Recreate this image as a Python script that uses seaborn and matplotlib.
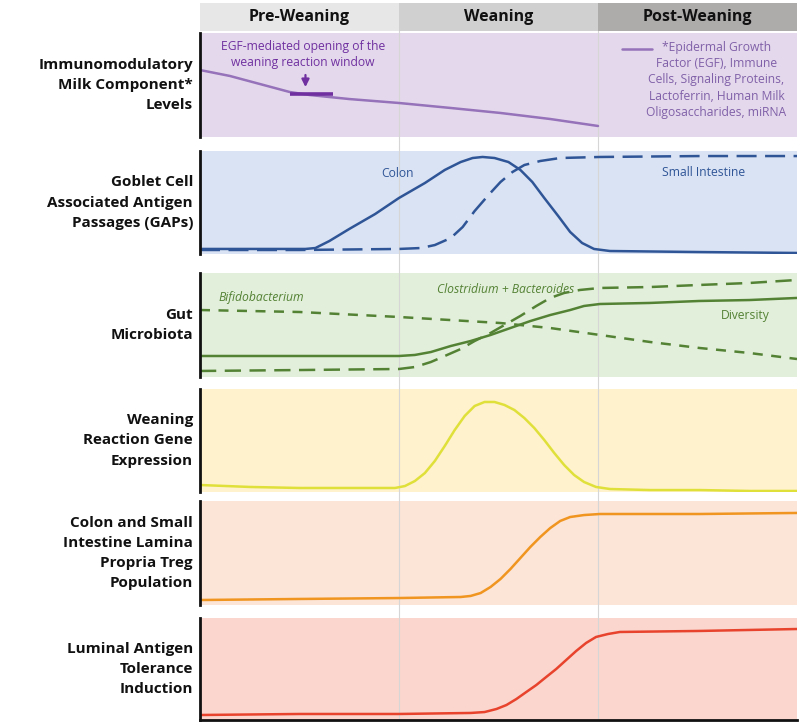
import matplotlib
matplotlib.use("Agg")
import matplotlib.pyplot as plt
from matplotlib.lines import Line2D
import seaborn as sns

sns.set_theme(style="white")
plt.rcParams['font.family'] = ['Open Sans', 'DejaVu Sans']

# ---------------- data ----------------
stages = ["Pre-Weaning", "Weaning", "Post-Weaning"]
stage_edges = [0, 1, 2, 3]

panel_labels = [
    "Immunomodulatory\nMilk Component*\nLevels",
    "Goblet Cell\nAssociated Antigen\nPassages (GAPs)",
    "Gut\nMicrobiota",
    "Weaning\nReaction Gene\nExpression",
    "Colon and Small\nIntestine Lamina\nPropria Treg\nPopulation",
    "Luminal Antigen\nTolerance\nInduction",
]

milk_x = [0, 0.15, 0.30, 0.45, 0.55, 0.75, 1.0, 1.26, 1.51, 1.76, 2.0]
milk_y = [64.4, 58.7, 51.0, 43.3, 40.4, 36.5, 32.7, 27.9, 23.1, 17.3, 10.6]
egf_window = [0.45, 0.67]
egf_level = 41.3

colon_x = [0, 0.30, 0.53, 0.58, 0.65, 0.75, 0.88, 1.0, 1.13, 1.23, 1.31, 1.37, 1.42,
           1.48, 1.55, 1.61, 1.67, 1.73, 1.80, 1.86, 1.92, 1.98, 2.06, 2.51, 3.0]
colon_y = [4.9, 4.9, 4.9, 5.8, 12.6, 24.3, 38.8, 54.4, 68.9, 81.6, 89.3, 93.2, 94.2,
           93.2, 89.3, 81.6, 69.9, 54.4, 36.9, 21.4, 10.7, 4.9, 2.9, 1.9, 1.0]

si_x = [0, 0.50, 1.0, 1.11, 1.18, 1.26, 1.32, 1.38, 1.45, 1.51, 1.57, 1.63, 1.71,
        1.81, 2.01, 2.51, 3.0]
si_y = [3.9, 3.9, 4.9, 5.8, 8.7, 15.5, 26.2, 41.7, 57.3, 69.9, 79.6, 86.4, 90.3,
        93.2, 94.2, 95.1, 95.1]

bifido_x = [0, 0.50, 1.0, 1.51, 1.76, 2.01, 2.26, 2.51, 2.76, 3.0]
bifido_y = [64.4, 62.5, 57.7, 51.9, 47.1, 40.4, 33.7, 27.9, 23.1, 17.3]

diversity_x = [0, 0.50, 1.0, 1.08, 1.16, 1.26, 1.36, 1.46, 1.56, 1.66, 1.76, 1.86,
               1.93, 2.01, 2.26, 2.51, 2.76, 3.0]
diversity_y = [20.2, 20.2, 20.2, 21.2, 24.0, 29.8, 34.6, 40.4, 47.1, 53.8, 59.6, 64.4,
               68.3, 70.2, 71.2, 73.1, 74.0, 76.0]

clost_x = [0, 0.50, 1.0, 1.08, 1.16, 1.23, 1.31, 1.38, 1.46, 1.53, 1.61, 1.69, 1.76,
           1.83, 1.91, 2.01, 2.26, 2.51, 2.76, 3.0]
clost_y = [5.8, 6.7, 7.7, 9.6, 14.4, 20.2, 26.9, 34.6, 42.3, 50.0, 58.7, 68.3, 76.0,
           80.8, 83.7, 85.6, 86.5, 88.5, 90.4, 93.3]

gene_x = [0, 0.25, 0.50, 0.75, 0.98, 1.03, 1.08, 1.13, 1.18, 1.23, 1.28, 1.33, 1.38,
          1.43, 1.48, 1.53, 1.58, 1.63, 1.68, 1.73, 1.78, 1.83, 1.88, 1.93, 1.99,
          2.06, 2.26, 2.51, 2.76, 3.0]
gene_y = [6.8, 4.9, 3.9, 3.9, 3.9, 5.8, 10.7, 18.4, 30.1, 44.7, 60.2, 73.8, 83.5,
          87.4, 87.4, 84.5, 79.6, 71.8, 62.1, 50.5, 37.9, 26.2, 16.5, 9.7, 4.9,
          2.9, 1.9, 1.9, 1.0, 1.0]

treg_x = [0, 0.50, 1.0, 1.31, 1.36, 1.41, 1.46, 1.51, 1.56, 1.61, 1.66, 1.71, 1.76,
          1.81, 1.86, 1.93, 2.01, 2.51, 3.0]
treg_y = [4.8, 5.8, 6.7, 7.7, 8.7, 11.5, 17.3, 25.0, 34.6, 45.2, 55.8, 65.4, 74.0,
          80.8, 84.6, 86.5, 87.5, 87.5, 88.5]

tol_x = [0, 0.50, 1.0, 1.36, 1.43, 1.49, 1.54, 1.59, 1.64, 1.69, 1.74, 1.79, 1.84,
         1.89, 1.94, 1.99, 2.05, 2.11, 2.51, 3.0]
tol_y = [4.9, 5.9, 5.9, 6.9, 7.8, 10.8, 14.7, 20.6, 27.5, 34.3, 42.2, 50.0, 58.8,
         67.6, 75.5, 81.4, 84.3, 86.3, 87.3, 89.2]

legend_text = ("*Epidermal Growth\nFactor (EGF), Immune\nCells, Signaling Proteins,\n"
               "Lactoferrin, Human Milk\nOligosaccharides, miRNA")

# ---------------- styles ----------------
W, H = 800, 725
header_colors = ["#e7e7e7", "#d0d0d0", "#aeabab"]
panel_bg = ["#e4d9ec", "#dae3f3", "#e2efda", "#fff2cc", "#fce4d6", "#fad6ce"]
panel_box = [(33, 137), (151, 254), (273, 377), (389, 492), (501, 605), (618, 720)]
guide_color = "#d6d6d6"

fig = plt.figure(figsize=(W / 100, H / 100), dpi=100)


def px_axes(x0, y0, x1, y1):
    return fig.add_axes([x0 / W, 1 - y1 / H, (x1 - x0) / W, (y1 - y0) / H])


# guide lines behind everything (visible in the gaps)
axg = px_axes(200, 3, 797, 720)
axg.set_xlim(0, 3)
axg.axis("off")
for e in stage_edges[1:-1]:
    axg.axvline(e, color=guide_color, lw=0.8)

# header
axh = px_axes(200, 3, 797, 31)
axh.set_xlim(0, 3)
axh.set_ylim(0, 1)
axh.axis("off")
for i, name in enumerate(stages):
    axh.axvspan(stage_edges[i], stage_edges[i + 1], color=header_colors[i], lw=0)
    axh.text((stage_edges[i] + stage_edges[i + 1]) / 2, 0.5, name, ha="center",
             va="center", fontsize=11.5, fontweight="bold", color="#111111")

axes = []
for i, (t, b) in enumerate(panel_box):
    ax = px_axes(200, t, 797, b)
    ax.set_facecolor(panel_bg[i])
    ax.set_xlim(0, 3)
    ax.set_ylim(0, 100)
    ax.set_xticks([])
    ax.set_yticks([])
    for s in ["top", "right", "bottom"]:
        ax.spines[s].set_visible(False)
    ax.spines["left"].set_color("#111111")
    ax.spines["left"].set_linewidth(2.0)
    if i == len(panel_box) - 1:
        ax.spines["bottom"].set_visible(True)
        ax.spines["bottom"].set_color("#111111")
        ax.spines["bottom"].set_linewidth(2.0)
    for e in stage_edges[1:-1]:
        ax.axvline(e, color=guide_color, lw=0.8, zorder=0.5)
    ax.text(-7 / 597, 0.5, panel_labels[i], transform=ax.transAxes, ha="right",
            va="center", fontsize=11, fontweight="bold", linespacing=1.55,
            color="#111111")
    axes.append(ax)

purple = "#9572b9"
egf_col = "#7030a0"
blue = "#2f5597"
green = "#548235"
yellow = "#e0e03a"
orange = "#f0951f"
red = "#e8432c"


def draw(ax, x, y, color, ls="-", lw=1.8):
    sns.lineplot(x=x, y=y, ax=ax, color=color, lw=lw, linestyle=ls,
                 estimator=None, sort=False)


# panel 1
ax = axes[0]
draw(ax, milk_x, milk_y, purple)
ax.plot(egf_window, [egf_level, egf_level], color=egf_col, lw=2.6, solid_capstyle="butt")
arrow_x = (egf_window[0] + egf_window[1]) / 2 - 0.03
ax.annotate("", xy=(arrow_x, egf_level + 4), xytext=(arrow_x, egf_level + 21),
            arrowprops=dict(arrowstyle="-|>", color=egf_col, lw=1.6, mutation_scale=11))
ax.text(0.1725, 0.79, "EGF-mediated opening of the\nweaning reaction window",
        transform=ax.transAxes, ha="center", va="center", fontsize=8.7,
        color=egf_col, linespacing=1.33)
ax.add_line(Line2D([0.707, 0.757], [0.846, 0.846], transform=ax.transAxes,
                   color=purple, lw=1.8))
ax.text(0.865, 0.925, legend_text, transform=ax.transAxes, ha="center", va="top",
        fontsize=8.7, color="#8060a8", linespacing=1.33)

# panel 2
ax = axes[1]
draw(ax, colon_x, colon_y, blue)
draw(ax, si_x, si_y, blue, ls=(0, (8, 3.4)))
ax.text(0.99, 78.6, "Colon", ha="center", va="center", fontsize=8.7, color=blue)
ax.text(2.53, 79.6, "Small Intestine", ha="center", va="center", fontsize=8.7, color=blue)

# panel 3
ax = axes[2]
draw(ax, bifido_x, bifido_y, green, ls=(0, (4, 3.4)))
draw(ax, diversity_x, diversity_y, green)
draw(ax, clost_x, clost_y, green, ls=(0, (6.5, 3.4)))
ax.text(0.095, 76.9, "Bifidobacterium", ha="left", va="center", fontsize=8.7,
        color=green, style="italic")
ax.text(1.19, 84.6, "Clostridium + Bacteroides", ha="left", va="center", fontsize=8.7,
        color=green, style="italic")
ax.text(2.74, 59.6, "Diversity", ha="center", va="center", fontsize=8.7, color=green)

# panel 4-6
draw(axes[3], gene_x, gene_y, yellow)
draw(axes[4], treg_x, treg_y, orange)
draw(axes[5], tol_x, tol_y, red)

for ax in axes:
    ax.set_xlim(0, 3)
    ax.set_ylim(0, 100)
    ax.set_xlabel("")
    ax.set_ylabel("")

fig.savefig("out.png", dpi=100)
